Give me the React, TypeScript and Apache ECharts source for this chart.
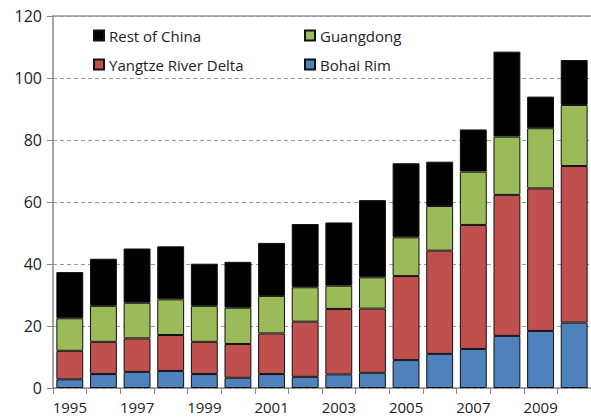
import React, { useEffect, useRef } from "react";
import * as echarts from "echarts";

const years = ["1995","1996","1997","1998","1999","2000","2001","2002","2003","2004","2005","2006","2007","2008","2009","2010"];
const bohaiRim = [2.8, 4.5, 5.2, 5.5, 4.5, 3.3, 4.5, 3.6, 4.4, 4.9, 9.0, 11.0, 12.6, 16.8, 18.4, 21.1];
const yangtzeRiverDelta = [9.2, 10.4, 10.8, 11.6, 10.4, 10.9, 13.1, 17.8, 21.1, 20.7, 27.1, 33.3, 40.0, 45.5, 46.0, 50.5];
const guangdong = [10.5, 11.6, 11.5, 11.5, 11.6, 11.7, 12.1, 11.1, 7.5, 10.1, 12.5, 14.4, 17.2, 18.8, 19.4, 19.7];
const restOfChina = [14.9, 15.2, 17.5, 17.1, 13.6, 14.8, 17.1, 20.4, 20.4, 24.9, 23.9, 14.3, 13.6, 27.4, 10.2, 14.5];

const FONT = "'Open Sans', Lato, sans-serif";

export default function App() {
  const ref = useRef<HTMLDivElement>(null);
  useEffect(() => {
    const chart = echarts.init(ref.current!, null, { renderer: "svg" });
    const mk = (name: string, data: number[], color: string) => ({
      name,
      type: "bar",
      stack: "total",
      data,
      barCategoryGap: "20%",
      itemStyle: { color, borderColor: "#111", borderWidth: 1 },
    });
    const legendBase = {
      itemWidth: 10,
      itemHeight: 10,
      icon: "rect",
      textStyle: { fontFamily: FONT, fontSize: 15, color: "#222" },
      itemGap: 4,
    };
    chart.setOption({
      animation: false,
      backgroundColor: "#fff",
      grid: { left: 53, right: 0, top: 16, bottom: 31, containLabel: false },
      legend: [
        { ...legendBase, data: ["Rest of China"], left: 88, top: 23 },
        { ...legendBase, data: ["Yangtze River Delta"], left: 88, top: 52 },
        { ...legendBase, data: ["Guangdong"], left: 299, top: 23 },
        { ...legendBase, data: ["Bohai Rim"], left: 299, top: 52 },
      ],
      xAxis: [
        {
          type: "category",
          data: years,
          axisLine: { lineStyle: { color: "#888", width: 1.5 } },
          axisTick: { show: true, length: 6, interval: 0, lineStyle: { color: "#888" } },
          axisLabel: { interval: 1, fontFamily: FONT, fontSize: 15, color: "#222", margin: 11 },
        },
        {
          type: "category",
          data: years,
          position: "top",
          axisLine: { show: true, lineStyle: { color: "#999", width: 1.5 } },
          axisTick: { show: false },
          axisLabel: { show: false },
        },
      ],
      yAxis: {
        type: "value",
        min: 0,
        max: 120,
        interval: 20,
        axisLine: { show: true, lineStyle: { color: "#888", width: 1.5 } },
        axisTick: { show: true, length: 6, lineStyle: { color: "#888" } },
        axisLabel: { fontFamily: FONT, fontSize: 16, color: "#222", margin: 11 },
        splitLine: { show: true, lineStyle: { color: "#999", type: [4, 3] } },
      },
      series: [
        mk("Bohai Rim", bohaiRim, "#4f81bd"),
        mk("Yangtze River Delta", yangtzeRiverDelta, "#c0504d"),
        mk("Guangdong", guangdong, "#9bbb59"),
        mk("Rest of China", restOfChina, "#000000"),
      ],
    });
    return () => chart.dispose();
  }, []);
  return <div ref={ref} style={{ width: 591, height: 419, position: "absolute", left: 0, top: 0 }} />;
}
